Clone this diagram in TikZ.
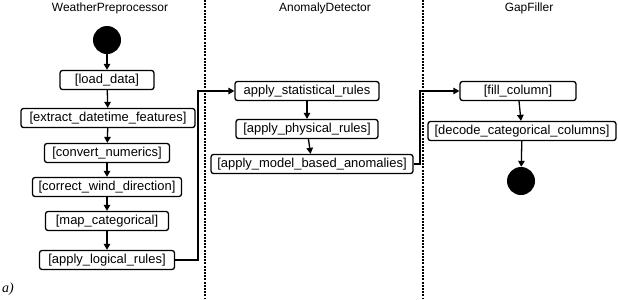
\documentclass[tikz,border=0pt]{standalone}
\usepackage{fontspec}
\setmainfont{Liberation Sans}
\newfontfamily\serifit{Liberation Serif}
\usetikzlibrary{arrows.meta}
\begin{document}
\begin{tikzpicture}[x=1bp,y=-1bp,
  act/.style={draw,line width=1.3bp,rounded corners=2.5bp,minimum height=19bp,inner sep=0.5bp,font=\fontsize{13}{14}\selectfont},
  arr/.style={line width=1.3bp,-{Triangle[length=6bp,width=6.5bp]}},
  lane/.style={line width=1.1bp,dash pattern=on 2bp off 1.2bp},
  ttl/.style={font=\fontsize{12}{13}\selectfont},
  blob/.style={circle,fill=black,minimum size=28bp,inner sep=0pt}]
\useasboundingbox (0,0) rectangle (618,299);
\draw[lane] (205,0) -- (205,299);
\draw[lane] (423,0) -- (423,299);
\node[ttl] (t1) at (110,8) {WeatherPreprocessor};
\node[ttl] (t2) at (325,8) {AnomalyDetector};
\node[ttl] (t3) at (529,8) {GapFiller};
\node[blob] (start) at (107,40) {};
\node[act,minimum width=94bp] (ld) at (107,80) {[load\_data]};
\node[act,minimum width=174bp] (edf) at (108,118) {[extract\_datetime\_features]};
\node[act,minimum width=125bp] (cn) at (107,153) {[convert\_numerics]};
\node[act,minimum width=149bp] (cwd) at (107,187) {[correct\_wind\_direction]};
\node[act,minimum width=123bp] (mc) at (107,221) {[map\_categorical]};
\node[act,minimum width=135bp] (alr) at (107,260) {[apply\_logical\_rules]};
\node[act,minimum width=144bp] (asr) at (307,91) {apply\_statistical\_rules};
\node[act,minimum width=142bp] (apr) at (307,129) {[apply\_physical\_rules]};
\node[act,minimum width=202bp] (amb) at (312,164) {[apply\_model\_based\_anomalies]};
\node[act,minimum width=116bp] (fc) at (518,91) {[fill\_column]};
\node[act,minimum width=188bp] (dcc) at (522,131) {[decode\_categorical\_columns]};
\node[blob] (end) at (521,181) {};
\coordinate (k1) at (198,90);
\coordinate (k2) at (420,90);
\node[font=\serifit\itshape\fontsize{14}{15}\selectfont] (lbl) at (8,289) {a)};
\draw[arr] (start) -- (ld);
\draw[arr] (ld) -- (edf);
\draw[arr] (edf) -- (cn);
\draw[arr] (cn) -- (cwd);
\draw[arr] (cwd) -- (mc);
\draw[arr] (mc) -- (alr);
\draw[arr] (alr.east) -- (alr.east -| k1) -- (k1 |- asr.west) -- (asr.west);
\draw[arr] (asr) -- (apr);
\draw[arr] (apr) -- (amb);
\draw[arr] (amb.east) -- (amb.east -| k2) -- (k2 |- fc.west) -- (fc.west);
\draw[arr] (fc) -- (dcc);
\draw[arr] (dcc) -- (end);
\end{tikzpicture}
\end{document}
